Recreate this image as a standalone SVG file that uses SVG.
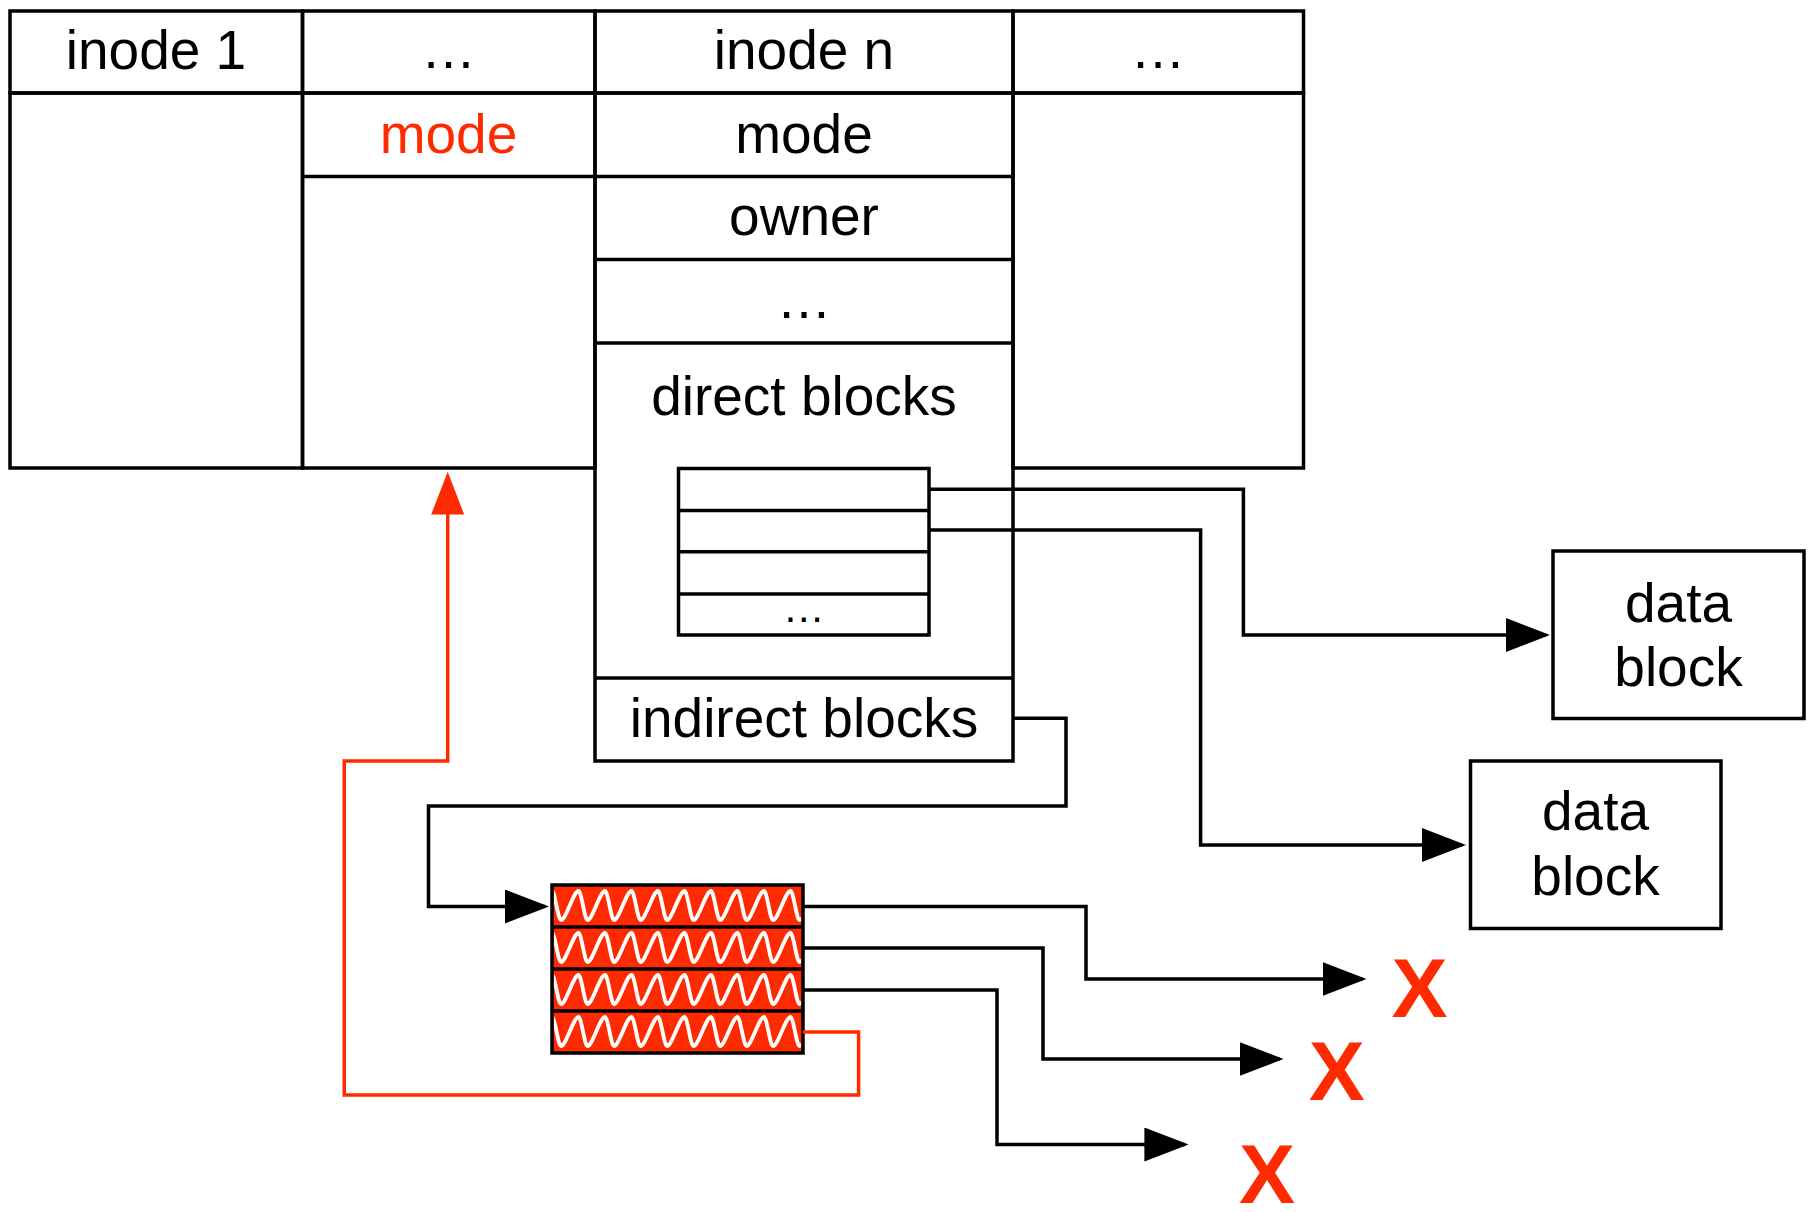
<svg xmlns="http://www.w3.org/2000/svg" width="1817" height="1212" viewBox="0 0 1817 1212">
  <style>
    .cell { fill: none; stroke: #000; stroke-width: 3.5; }
    .lbl { font-family: "Liberation Sans", Arial, Helvetica, sans-serif; font-size: 55px; text-anchor: middle; fill: #000; }
    .hot { fill: #ff2a00; }
    .cross { font-family: "Liberation Sans", Arial, Helvetica, sans-serif; font-size: 84px; font-weight: bold; text-anchor: middle; fill: #ff2a00; }
    .wire { fill: none; stroke: #000; stroke-width: 3.5; stroke-linejoin: miter; }
    .wire-red { fill: none; stroke: #ff2a00; stroke-width: 3.5; }
    .squiggle { fill: none; stroke: #fff; stroke-width: 3.8; stroke-linecap: round; }
  </style>
  <defs>
    <marker id="arrow" viewBox="0 0 44 34" refX="40" refY="17" markerWidth="44" markerHeight="34" markerUnits="userSpaceOnUse" orient="auto">
      <path d="M0,0 L44,17 L0,34 z" fill="#000"/>
    </marker>
    <marker id="arrow-red" viewBox="0 0 44 34" refX="40" refY="17" markerWidth="43" markerHeight="33" markerUnits="userSpaceOnUse" orient="auto">
      <path d="M0,0 L44,17 L0,34 z" fill="#ff2a00"/>
    </marker>
    <clipPath id="freed-clip">
      <rect x="553.75" y="886.75" width="247.5" height="164.5"/>
    </clipPath>
    <!-- one row of the scribbled-out pointer block: steep down strokes, leaning up strokes -->
    <path id="wave" class="squiggle" d="M552,891
      c3,0 6,29 9,29 c5,0 12.5,-29 17.5,-29
      c3,0 6,29 9,29 c5,0 12.5,-29 17.5,-29
      c3,0 6,29 9,29 c5,0 12.5,-29 17.5,-29
      c3,0 6,29 9,29 c5,0 12.5,-29 17.5,-29
      c3,0 6,29 9,29 c5,0 12.5,-29 17.5,-29
      c3,0 6,29 9,29 c5,0 12.5,-29 17.5,-29
      c3,0 6,29 9,29 c5,0 12.5,-29 17.5,-29
      c3,0 6,29 9,29 c5,0 12.5,-29 17.5,-29
      c3,0 6,29 9,29 c5,0 12.5,-29 17.5,-29
      c3,0 6,29 9,29 c5,0 12.5,-29 17.5,-29"/>
  </defs>

  <rect x="0" y="0" width="1817" height="1212" fill="#fff"/>

  <!-- inode table -->
  <g id="inode-1">
    <rect class="cell" x="10" y="11" width="292.5" height="82"/>
    <rect class="cell" x="10" y="93" width="292.5" height="375"/>
    <text class="lbl" x="156" y="69">inode 1</text>
  </g>

  <g id="inode-gap-left">
    <rect class="cell" x="302.5" y="11" width="292.5" height="82"/>
    <rect class="cell" x="302.5" y="93" width="292.5" height="375"/>
    <line class="cell" x1="302.5" y1="176.5" x2="595" y2="176.5"/>
    <text class="lbl" x="448.5" y="68">…</text>
    <text class="lbl hot" x="448.5" y="153">mode</text>
  </g>

  <g id="inode-n">
    <rect class="cell" x="595" y="11" width="418" height="82"/>
    <rect class="cell" x="595" y="93" width="418" height="668"/>
    <line class="cell" x1="595" y1="176.5" x2="1013" y2="176.5"/>
    <line class="cell" x1="595" y1="259.5" x2="1013" y2="259.5"/>
    <line class="cell" x1="595" y1="343" x2="1013" y2="343"/>
    <line class="cell" x1="595" y1="678" x2="1013" y2="678"/>
    <text class="lbl" x="804" y="69">inode n</text>
    <text class="lbl" x="804" y="153">mode</text>
    <text class="lbl" x="804" y="235">owner</text>
    <text class="lbl" x="804" y="318">…</text>
    <text class="lbl" x="804" y="415">direct blocks</text>
    <text class="lbl" x="804" y="737">indirect blocks</text>
  </g>

  <g id="inode-gap-right">
    <rect class="cell" x="1013" y="11" width="290.5" height="82"/>
    <rect class="cell" x="1013" y="93" width="290.5" height="375"/>
    <text class="lbl" x="1158" y="68">…</text>
  </g>

  <!-- direct block pointers -->
  <g id="direct-pointers">
    <rect class="cell" x="678.5" y="468.5" width="250.5" height="166.5"/>
    <line class="cell" x1="678.5" y1="510.5" x2="929" y2="510.5"/>
    <line class="cell" x1="678.5" y1="551.7" x2="929" y2="551.7"/>
    <line class="cell" x1="678.5" y1="594" x2="929" y2="594"/>
    <text class="lbl" x="803.7" y="622" style="font-size:42px">…</text>
  </g>

  <g id="data-block-1">
    <rect class="cell" x="1553" y="551" width="251" height="167.5"/>
    <text class="lbl" x="1678.5" y="622">data</text>
    <text class="lbl" x="1678.5" y="686">block</text>
  </g>

  <g id="data-block-2">
    <rect class="cell" x="1470.5" y="761" width="250.5" height="167.5"/>
    <text class="lbl" x="1595.5" y="830">data</text>
    <text class="lbl" x="1595.5" y="895">block</text>
  </g>

  <!-- freed indirect block, scribbled out -->
  <g id="indirect-block">
    <rect class="hot" x="552" y="885" width="251" height="168"/>
    <g clip-path="url(#freed-clip)">
      <use href="#wave"/>
      <use href="#wave" transform="translate(0,42)"/>
      <use href="#wave" transform="translate(0,84)"/>
      <use href="#wave" transform="translate(0,126)"/>
    </g>
    <rect class="cell" x="552" y="885" width="251" height="168"/>
    <line class="cell" x1="552" y1="927" x2="803" y2="927"/>
    <line class="cell" x1="552" y1="969" x2="803" y2="969"/>
    <line class="cell" x1="552" y1="1011" x2="803" y2="1011"/>
  </g>

  <g id="lost-targets">
    <text class="cross" x="1419.5" y="1017">X</text>
    <text class="cross" x="1336.7" y="1100">X</text>
    <text class="cross" x="1267" y="1203">X</text>
  </g>

  <!-- pointers -->
  <g id="connectors">
    <path class="wire" d="M929,489.3 H1243.4 V635 H1546" marker-end="url(#arrow)"/>
    <path class="wire" d="M929,530 H1200.6 V845 H1462" marker-end="url(#arrow)"/>
    <path class="wire" d="M1013,718.3 H1066 V806 H428.5 V906.5 H545" marker-end="url(#arrow)"/>
    <path class="wire" d="M803,906.5 H1086 V979 H1362.5" marker-end="url(#arrow)"/>
    <path class="wire" d="M803,948 H1043 V1059 H1279.6" marker-end="url(#arrow)"/>
    <path class="wire" d="M803,990 H997 V1144.5 H1184.4" marker-end="url(#arrow)"/>
    <path class="wire-red" d="M803,1032 H858.6 V1095 H344.3 V761 H447.7 V475.7" marker-end="url(#arrow-red)"/>
  </g>
</svg>
